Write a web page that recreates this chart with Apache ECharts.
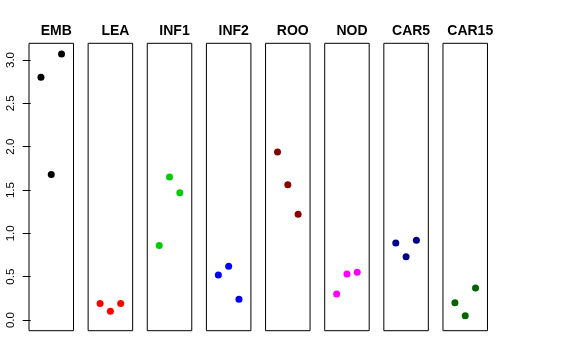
<!DOCTYPE html>
<html>
<head>
<meta charset="utf-8">
<script src="https://cdn.jsdelivr.net/npm/echarts@6/dist/echarts.min.js"></script>
<style>html,body{margin:0;padding:0;background:#fff}#c{width:576px;height:360px}</style>
</head>
<body>
<div id="c"></div>
<script>
// ---- data ----
const panels = ["EMB", "LEA", "INF1", "INF2", "ROO", "NOD", "CAR5", "CAR15"];
const xPositions = [1, 2, 3];
const EMB   = [2.80, 1.68, 3.07];
const LEA   = [0.19, 0.10, 0.19];
const INF1  = [0.86, 1.65, 1.47];
const INF2  = [0.52, 0.62, 0.24];
const ROO   = [1.94, 1.56, 1.22];
const NOD   = [0.30, 0.53, 0.55];
const CAR5  = [0.89, 0.73, 0.92];
const CAR15 = [0.20, 0.05, 0.37];
const yTicks = [0, 0.5, 1, 1.5, 2, 2.5, 3];
const seriesValues = [EMB, LEA, INF1, INF2, ROO, NOD, CAR5, CAR15];
const colors = ["#000000", "#FF0000", "#00CD00", "#0000FF", "#8B0000", "#FF00FF", "#00008B", "#006400"];

// ---- layout ----
const gLeft0 = 29, gStep = 59.14, gW = 44.5, gTop = 43.3, gH = 287.4;
const yMin = -0.123, yMax = 3.193;

const grids = [], xAxes = [], yAxes = [], series = [], titles = [];
panels.forEach((name, i) => {
  const l = gLeft0 + i * gStep;
  grids.push({ left: l, top: gTop, width: gW, height: gH, show: true, borderColor: '#000', borderWidth: 1, backgroundColor: 'transparent' });
  xAxes.push({ gridIndex: i, type: 'value', min: -0.16, max: 4.16, show: false });
  yAxes.push({
    gridIndex: i, type: 'value', min: yMin, max: yMax,
    show: i === 0,
    splitLine: { show: false },
    axisLine: { show: false },
    axisTick: { show: i === 0, length: 8, inside: false, customValues: yTicks, lineStyle: { color: '#000' } },
    axisLabel: { show: i === 0, customValues: yTicks, rotate: 90, margin: 12, color: '#000', fontSize: 11.5,
      fontFamily: 'Liberation Sans, Arial, sans-serif', formatter: v => Number(v).toFixed(1) }
  });
  series.push({
    type: 'scatter', xAxisIndex: i, yAxisIndex: i, symbol: 'circle', symbolSize: 7,
    itemStyle: { color: colors[i], opacity: 1 },
    data: xPositions.map((x, k) => [x, seriesValues[i][k]]),
    silent: true, animation: false
  });
  titles.push({ text: name, left: l + gW / 2, top: 19, textAlign: 'center',
    textStyle: { fontSize: 14, fontWeight: 'bold', color: '#000', fontFamily: 'Liberation Sans, Arial, sans-serif' } });
});

const chart = echarts.init(document.getElementById('c'), null, { renderer: 'canvas' });
chart.setOption({
  animation: false,
  backgroundColor: '#fff',
  title: titles,
  grid: grids,
  xAxis: xAxes,
  yAxis: yAxes,
  series: series
});
</script>
</body>
</html>
